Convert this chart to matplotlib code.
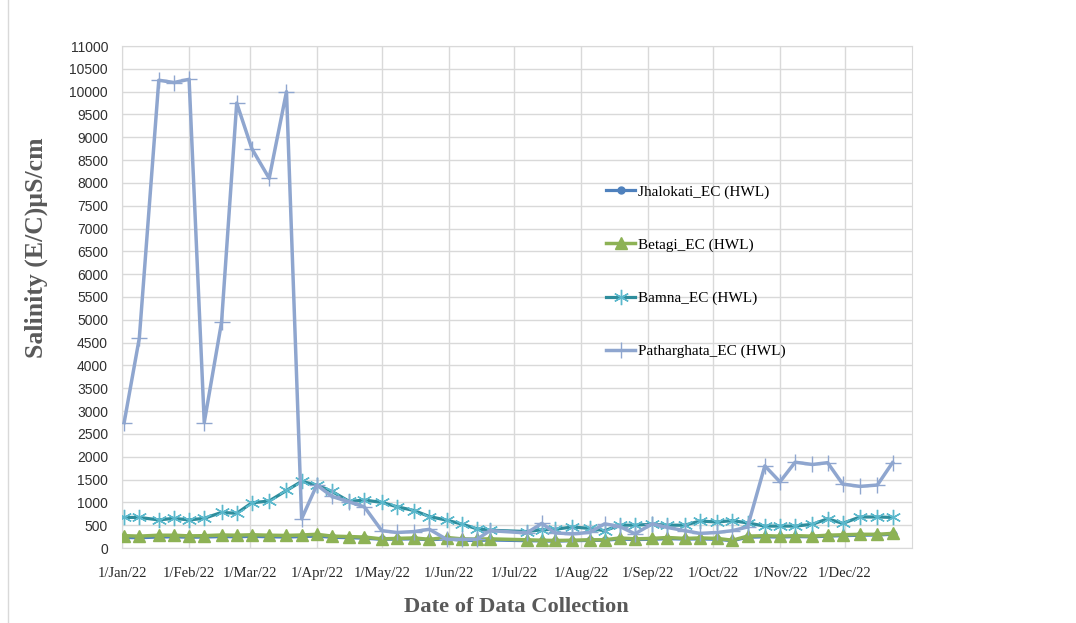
import numpy as np
import pandas as pd
import matplotlib
matplotlib.use("Agg")
import matplotlib.pyplot as plt

# Даты отбора проб (примерно раз в неделю)
dates = pd.to_datetime([
    "2022-01-02", "2022-01-09", "2022-01-18", "2022-01-25", "2022-02-01", "2022-02-08",
    "2022-02-16", "2022-02-23", "2022-03-02", "2022-03-10", "2022-03-18", "2022-03-25",
    "2022-04-01", "2022-04-08", "2022-04-16", "2022-04-23", "2022-05-01", "2022-05-08",
    "2022-05-16", "2022-05-23", "2022-05-31", "2022-06-07", "2022-06-14", "2022-06-20",
    "2022-07-07", "2022-07-14", "2022-07-20", "2022-07-28", "2022-08-05", "2022-08-12",
    "2022-08-19", "2022-08-26", "2022-09-03", "2022-09-10", "2022-09-18", "2022-09-25",
    "2022-10-03", "2022-10-10", "2022-10-17", "2022-10-25", "2022-11-01", "2022-11-08",
    "2022-11-16", "2022-11-23", "2022-11-30", "2022-12-08", "2022-12-16", "2022-12-23",
])

jhalokati = [230, 225, 240, 245, 235, 240, 250, 245, 255, 245, 240, 250,
             260, 235, 225, 215, 190, 195, 200, 180, 200, 170, 165, 175,
             160, 155, 150, 160, 165, 170, 195, 185, 190, 205, 195, 200,
             190, 160, 235, 245, 240, 250, 245, 260, 270, 280, 285, 300]
betagi = [270, 260, 280, 280, 265, 270, 285, 280, 290, 280, 275, 285,
          300, 260, 250, 240, 200, 210, 220, 190, 230, 200, 195, 200,
          180, 170, 165, 170, 180, 180, 220, 200, 210, 230, 210, 220,
          210, 170, 260, 270, 260, 270, 260, 280, 290, 300, 300, 320]
bamna = [670, 670, 615, 650, 615, 650, 780, 760, 990, 1030, 1260, 1460,
         1380, 1240, 1020, 1050, 1000, 905, 820, 690, 610, 525, 420, 390,
         360, 400, 410, 460, 430, 380, 500, 500, 520, 500, 500, 590,
         570, 600, 550, 480, 480, 480, 520, 640, 540, 680, 680, 670]
patharghata = [2750, 4600, 10250, 10200, 10270, 2750, 4950, 9750, 8750, 8100, 10000, 640,
               1380, 1130, 1010, 900, 380, 340, 360, 410, 190, 190, 190, 380,
               330, 540, 330, 310, 340, 530, 470, 310, 530, 450, 380, 320,
               340, 380, 460, 1800, 1450, 1880, 1830, 1870, 1400, 1350, 1380, 1870]

fig = plt.figure(figsize=(10.76, 6.23), dpi=100)
ax = fig.add_axes([122 / 1076, 1 - 548 / 623, 790 / 1076, 502 / 623])

# Рамка слева, как на оригинале
fig.add_artist(plt.Line2D([8 / 1076, 8 / 1076], [0, 1], color="#d9d9d9", lw=1))

ax.plot(dates, jhalokati, color="#4F81BD", lw=2.3, marker="o", ms=5,
        label="Jhalokati_EC (HWL)", zorder=3)
ax.plot(dates, betagi, color="#8DB255", lw=2.5, marker="^", ms=8,
        mfc="#8DB255", mec="#8DB255", label="Betagi_EC (HWL)", zorder=4)
ax.plot(dates, bamna, color="#2E8D9C", lw=2.3, marker=(6, 2, 0), ms=11,
        mec="#5BB8CC", mew=1.0, label="Bamna_EC (HWL)", zorder=5)
ax.plot(dates, patharghata, color="#8FA6CF", lw=2.5, marker="+", ms=11,
        mec="#8FA6CF", mew=1.0, label="Patharghata_EC (HWL)", zorder=6)

ax.set_xlim(pd.Timestamp("2022-01-01"), pd.Timestamp("2023-01-01"))
ax.set_ylim(0, 11000)
ax.set_yticks(np.arange(0, 11001, 500))
ticks = pd.date_range("2022-01-01", "2022-12-01", freq="MS")
ax.set_xticks(ticks)
ax.set_xticklabels([d.strftime("1/%b/%y") for d in ticks],
                   fontfamily="Liberation Serif", fontsize=10.5, color="#262626")
for lab in ax.get_yticklabels():
    lab.set_fontfamily("Liberation Sans")
    lab.set_fontsize(10)
    lab.set_color("#303030")

ax.grid(True, color="#d9d9d9", lw=1)
ax.set_axisbelow(True)
ax.tick_params(length=0)
ax.tick_params(axis="y", pad=10)
ax.tick_params(axis="x", pad=14)
for s in ax.spines.values():
    s.set_color("#d9d9d9")

fig.text(36 / 1076, 1 - 248 / 623, "Salinity (E/C)µS/cm", rotation=90,
         ha="center", va="center", fontfamily="Liberation Serif",
         fontweight="bold", fontsize=18.5, color="#595959")
fig.text(516 / 1076, 1 - 607 / 623, "Date of Data Collection",
         ha="center", va="center", fontfamily="Liberation Serif",
         fontweight="bold", fontsize=16.2, color="#595959")

leg = ax.legend(loc="upper left", bbox_to_anchor=(606 / 1076, 1 - 185 / 623),
                bbox_transform=fig.transFigure, frameon=False,
                prop={"family": "Liberation Serif", "size": 11},
                handlelength=1.9, handletextpad=0.2, labelspacing=2.57,
                borderpad=0, borderaxespad=0)

fig.savefig("out.png", dpi=100, facecolor="white")
